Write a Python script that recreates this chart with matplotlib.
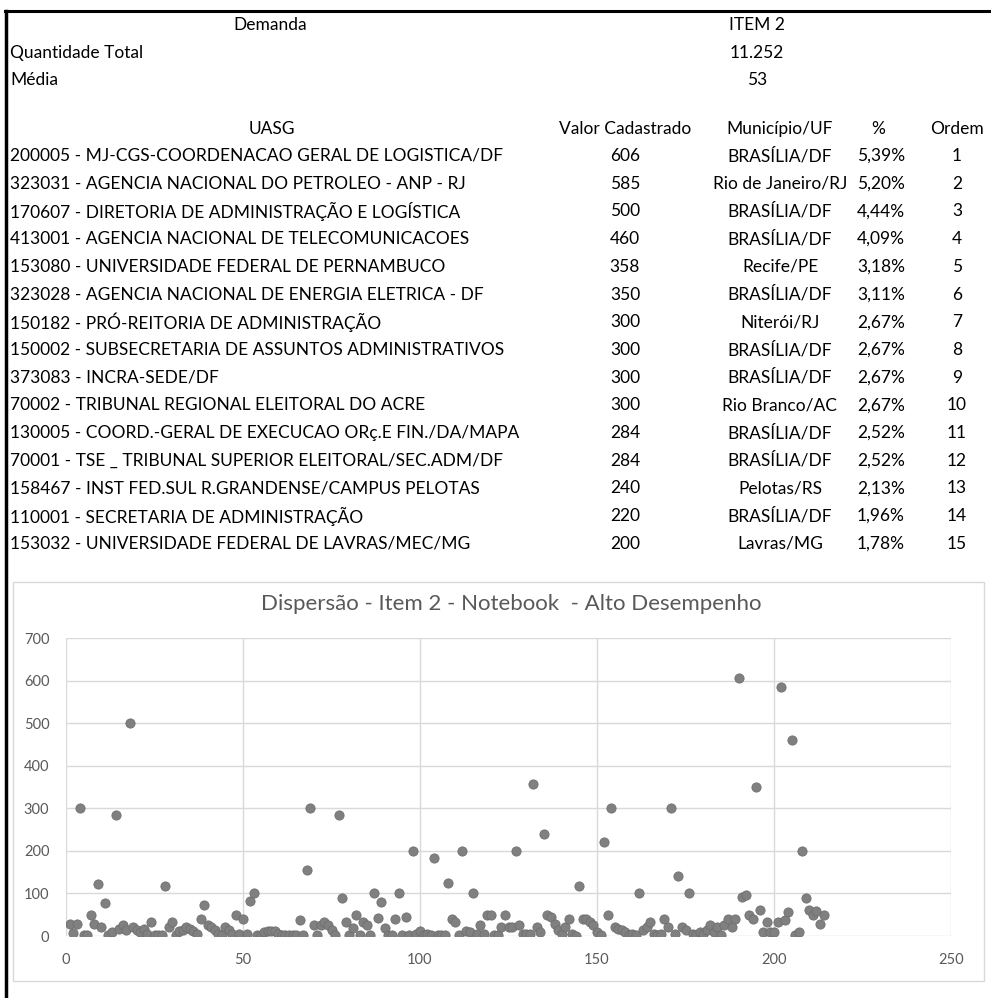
import matplotlib
matplotlib.use("Agg")
import matplotlib.pyplot as plt
from matplotlib.lines import Line2D
from matplotlib.patches import Rectangle

# ---------------- data ----------------
summary_labels = ["Demanda", "Quantidade Total", "Média"]
summary_values = ["ITEM 2", "11.252", "53"]

headers = ["UASG", "Valor Cadastrado", "Município/UF", "%", "Ordem"]
uasg = [
    "200005 - MJ-CGS-COORDENACAO GERAL DE LOGISTICA/DF",
    "323031 - AGENCIA NACIONAL DO PETROLEO - ANP - RJ",
    "170607 - DIRETORIA DE ADMINISTRAÇÃO E LOGÍSTICA",
    "413001 - AGENCIA NACIONAL DE TELECOMUNICACOES",
    "153080 - UNIVERSIDADE FEDERAL DE PERNAMBUCO",
    "323028 - AGENCIA NACIONAL DE ENERGIA ELETRICA - DF",
    "150182 - PRÓ-REITORIA DE ADMINISTRAÇÃO",
    "150002 - SUBSECRETARIA DE ASSUNTOS ADMINISTRATIVOS",
    "373083 - INCRA-SEDE/DF",
    "70002 - TRIBUNAL REGIONAL ELEITORAL DO ACRE",
    "130005 - COORD.-GERAL DE EXECUCAO ORç.E FIN./DA/MAPA",
    "70001 - TSE _ TRIBUNAL SUPERIOR ELEITORAL/SEC.ADM/DF",
    "158467 - INST FED.SUL R.GRANDENSE/CAMPUS PELOTAS",
    "110001 - SECRETARIA DE ADMINISTRAÇÃO",
    "153032 - UNIVERSIDADE FEDERAL DE LAVRAS/MEC/MG",
]
valor = [606, 585, 500, 460, 358, 350, 300, 300, 300, 300, 284, 284, 240, 220, 200]
municipio = ["BRASÍLIA/DF", "Rio de Janeiro/RJ", "BRASÍLIA/DF", "BRASÍLIA/DF", "Recife/PE",
             "BRASÍLIA/DF", "Niterói/RJ", "BRASÍLIA/DF", "BRASÍLIA/DF", "Rio Branco/AC",
             "BRASÍLIA/DF", "BRASÍLIA/DF", "Pelotas/RS", "BRASÍLIA/DF", "Lavras/MG"]
pct = ["5,39%", "5,20%", "4,44%", "4,09%", "3,18%", "3,11%", "2,67%", "2,67%", "2,67%",
       "2,67%", "2,52%", "2,52%", "2,13%", "1,96%", "1,78%"]
ordem = list(range(1, 16))

chart_title = "Dispersão - Item 2 - Notebook  - Alto Desempenho"
scatter_y = [
    29, 8, 29, 300, 3, 3, 49, 29, 121, 21,
    78, 2, 9, 284, 17, 25, 13, 500, 21, 13,
    9, 17, 5, 33, 2, 2, 2, 118, 21, 33,
    2, 11, 13, 21, 17, 11, 5, 41, 72, 25,
    21, 13, 5, 2, 21, 13, 5, 50, 5, 40,
    5, 82, 100, 3, 3, 9, 11, 11, 11, 5,
    2, 2, 2, 2, 2, 37, 2, 155, 300, 25,
    2, 25, 33, 25, 13, 2, 284, 89, 33, 2,
    19, 50, 2, 33, 25, 2, 100, 42, 80, 19,
    2, 2, 41, 100, 2, 45, 2, 200, 5, 11,
    2, 5, 2, 183, 2, 2, 2, 125, 41, 33,
    2, 200, 11, 9, 100, 5, 25, 5, 50, 50,
    2, 2, 21, 50, 21, 21, 200, 25, 5, 5,
    5, 358, 21, 9, 240, 50, 45, 29, 13, 5,
    21, 41, 5, 0, 118, 41, 41, 33, 25, 9,
    2, 220, 49, 300, 21, 17, 13, 9, 2, 5,
    2, 100, 13, 21, 33, 5, 2, 5, 41, 21,
    300, 5, 141, 21, 13, 100, 5, 2, 9, 5,
    13, 25, 9, 21, 2, 25, 41, 21, 41, 606,
    92, 97, 49, 41, 350, 60, 9, 33, 9, 9,
    33, 585, 37, 56, 460, 3, 9, 200, 89, 60,
    50, 58, 29, 49,
]
scatter_x = list(range(1, len(scatter_y) + 1))
x_ticks = [0, 50, 100, 150, 200, 250]
y_ticks = [0, 100, 200, 300, 400, 500, 600, 700]

# ---------------- figure ----------------
W, H = 991, 998
fig = plt.figure(figsize=(W / 100, H / 100), dpi=100)
fig.patch.set_facecolor("white")

FONT = ["Lato", "DejaVu Sans"]
fs = 12.5


def T(x, y, s, ha="left", size=fs, color="black", **kw):
    return fig.text(x / W, 1 - y / H, s, ha=ha, va="center", fontsize=size,
                    color=color, family=FONT, **kw)


# black frame (top and left)
fig.add_artist(Line2D([5 / W, 1], [1 - 11 / H, 1 - 11 / H], color="black", lw=2.2,
                      transform=fig.transFigure))
fig.add_artist(Line2D([6 / W, 6 / W], [1 - 11 / H, 0], color="black", lw=2.5,
                      transform=fig.transFigure))

# summary block
top_rows = [25, 53, 80]
T(270, top_rows[0], summary_labels[0], ha="center")
T(757, top_rows[0], summary_values[0], ha="center")
for i in (1, 2):
    T(10, top_rows[i], summary_labels[i])
    T(757, top_rows[i], summary_values[i], ha="center")

# table
hy = 129
col_x = [272, 625, 780, 878, 957]
for cx, h in zip(col_x, headers):
    T(cx, hy, h, ha="center")
row0, step = 156, 27.7
for i in range(15):
    y = row0 + i * step
    T(10, y, uasg[i])
    T(col_x[1], y, str(valor[i]), ha="center")
    T(col_x[2], y, municipio[i], ha="center")
    T(col_x[3] + 3, y, pct[i], ha="center")
    T(col_x[4], y, str(ordem[i]), ha="center")

# chart box
fig.add_artist(Rectangle((13 / W, 1 - 981 / H), (984 - 13) / W, (981 - 582) / H,
                         transform=fig.transFigure, fill=False, ec="#d9d9d9", lw=1.0))
T(511, 604, chart_title, ha="center", size=16, color="#595959")

ax = fig.add_axes([66 / W, 1 - 936 / H, (951 - 66) / W, (936 - 638) / H])
ax.set_xlim(0, 250)
ax.set_ylim(0, 700)
ax.set_xticks(x_ticks)
ax.set_yticks(y_ticks)
ax.grid(True, color="#d9d9d9", lw=1.0)
ax.set_axisbelow(True)
for sp in ax.spines.values():
    sp.set_visible(False)
ax.tick_params(length=0, labelsize=10.5, labelcolor="#595959")
ax.tick_params(axis="y", pad=12)
ax.tick_params(axis="x", pad=12)
for lab in ax.get_xticklabels() + ax.get_yticklabels():
    lab.set_family(FONT)
ax.scatter(scatter_x, scatter_y, s=44, color="#808080", edgecolors="#6f6f6f",
           linewidths=0.6, zorder=3)

fig.savefig("out.png", dpi=100, facecolor="white")
